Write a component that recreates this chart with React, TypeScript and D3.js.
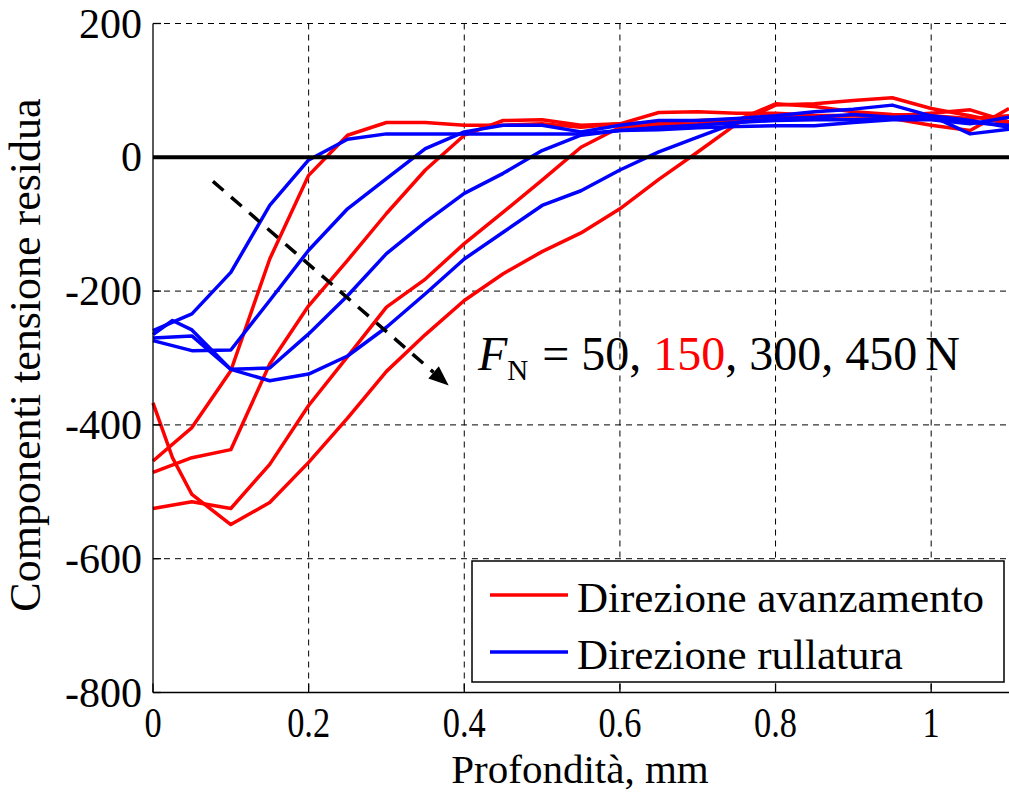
import React from "react";
import * as d3 from "d3";

const W = 1009;
const H = 793;

// depth in mm, 0.05 steps
const depth = [0, 0.05, 0.1, 0.15, 0.2, 0.25, 0.3, 0.35, 0.4, 0.45, 0.5, 0.55, 0.6, 0.65, 0.7, 0.75, 0.8, 0.85, 0.9, 0.95, 1.0, 1.05, 1.1];
// the deepest curves also have a reading at 0.025
const depthFine = [0, 0.025, 0.05, 0.1, 0.15, 0.2, 0.25, 0.3, 0.35, 0.4, 0.45, 0.5, 0.55, 0.6, 0.65, 0.7, 0.75, 0.8, 0.85, 0.9, 0.95, 1.0, 1.05, 1.1];

// Direzione avanzamento (red)
const avanz50 = [-454, -404, -319, -152, -27, 33, 52, 52, 48, 48, 50, 45, 50, 52, 55, 57, 60, 58, 57, 58, 48, 40, 73];
const avanz150 = [-471, -449, -437, -309, -222, -154, -84, -19, 33, 55, 56, 48, 50, 67, 68, 66, 66, 63, 62, 62, 66, 71, 53];
const avanz300 = [-525, -515, -525, -459, -371, -298, -224, -182, -129, -82, -34, 15, 45, 48, 50, 55, 80, 76, 68, 64, 62, 58, 62];
const avanz450 = [-367, -449, -504, -549, -516, -456, -390, -320, -265, -214, -174, -141, -113, -77, -33, 8, 50, 78, 80, 85, 89, 73, 62, 50];

// Direzione rullatura (blue)
const rull50 = [-259, -234, -172, -72, -4, 27, 35, 35, 35, 35, 35, 35, 40, 41, 44, 46, 47, 47, 52, 56, 56, 50, 60];
const rull150 = [-274, -289, -288, -214, -139, -77, -32, 13, 38, 48, 48, 38, 48, 55, 55, 58, 62, 68, 72, 78, 62, 35, 42];
const rull300 = [-270, -267, -317, -315, -264, -207, -144, -97, -54, -24, 10, 33, 40, 45, 48, 52, 55, 56, 56, 58, 58, 52, 48];
const rull450 = [-265, -244, -258, -317, -334, -324, -297, -254, -204, -152, -112, -72, -50, -19, 8, 30, 52, 58, 60, 64, 60, 62, 55, 45];

const xTicks = [0, 0.2, 0.4, 0.6, 0.8, 1];
const xTickLabels = ["0", "0.2", "0.4", "0.6", "0.8", "1"];
const yTicks = [200, 0, -200, -400, -600, -800];
const xGrid = [0.2, 0.4, 0.6, 0.8, 1];
const yGrid = [200, -200, -400, -600];

// arrow annotation, in data units
const arrowFrom = [0.077, -36];
const arrowTo = [0.38, -341];

const font = "'Liberation Serif', 'Times New Roman', serif";

export default function App() {
  const x = d3.scaleLinear().domain([0, 1.1]).range([153, 1009]);
  const y = d3.scaleLinear().domain([-800, 200]).range([692.5, 23.5]);

  const line = d3
    .line<[number, number]>()
    .x((d) => x(d[0]))
    .y((d) => y(d[1]));

  const series = [
    { xs: depth, ys: avanz50, color: "#ff0000" },
    { xs: depth, ys: avanz150, color: "#ff0000" },
    { xs: depth, ys: avanz300, color: "#ff0000" },
    { xs: depthFine, ys: avanz450, color: "#ff0000" },
    { xs: depth, ys: rull50, color: "#0000ff" },
    { xs: depth, ys: rull150, color: "#0000ff" },
    { xs: depth, ys: rull300, color: "#0000ff" },
    { xs: depthFine, ys: rull450, color: "#0000ff" },
  ];

  const ax1 = x(arrowFrom[0]);
  const ay1 = y(arrowFrom[1]);
  const ax2 = x(arrowTo[0]);
  const ay2 = y(arrowTo[1]);
  const ang = Math.atan2(ay2 - ay1, ax2 - ax1);
  const headLen = 20;
  const headW = 8;
  const bx = ax2 - headLen * Math.cos(ang);
  const by = ay2 - headLen * Math.sin(ang);
  const head = [
    [ax2, ay2],
    [bx - headW * Math.sin(ang), by + headW * Math.cos(ang)],
    [bx + headW * Math.sin(ang), by - headW * Math.cos(ang)],
  ];

  return (
    <svg
      width={W}
      height={H}
      viewBox={`0 0 ${W} ${H}`}
      style={{ position: "absolute", left: 0, top: 0, background: "#fff" }}
      fontFamily={font}
    >
      <rect x={0} y={0} width={W} height={H} fill="#fff" />

      {/* grid */}
      {xGrid.map((t) => (
        <line key={"gx" + t} x1={x(t)} x2={x(t)} y1={y(200)} y2={y(-800)} stroke="#000" strokeWidth={1} strokeDasharray="6,5" />
      ))}
      {yGrid.map((t) => (
        <line key={"gy" + t} x1={x(0)} x2={x(1.1)} y1={y(t)} y2={y(t)} stroke="#000" strokeWidth={1} strokeDasharray="6,5" />
      ))}

      {/* data */}
      {series.map((s, i) => (
        <path
          key={i}
          d={line(s.xs.map((d, j) => [d, s.ys[j]] as [number, number])) || ""}
          fill="none"
          stroke={s.color}
          strokeWidth={3.5}
          strokeLinejoin="round"
        />
      ))}

      {/* zero line */}
      <line x1={x(0)} x2={x(1.1)} y1={y(0)} y2={y(0)} stroke="#000" strokeWidth={4} />

      {/* axes */}
      <line x1={x(0)} x2={x(0)} y1={y(200)} y2={y(-800)} stroke="#000" strokeWidth={1.3} />
      <line x1={x(0)} x2={x(1.1)} y1={y(-800)} y2={y(-800)} stroke="#000" strokeWidth={1.3} />
      {yTicks.map((t) => (
        <g key={"yt" + t}>
          <line x1={x(0)} x2={x(0) + 8} y1={y(t)} y2={y(t)} stroke="#000" strokeWidth={1.3} />
          <text x={142} y={y(t) + 14} fontSize={42} textAnchor="end" fill="#000">
            {t}
          </text>
        </g>
      ))}
      {xTicks.map((t, i) => (
        <g key={"xt" + t}>
          <line x1={x(t)} x2={x(t)} y1={y(-800)} y2={y(-800) - 9} stroke="#000" strokeWidth={1.3} />
          <text
            transform={`translate(${x(t)},737) scale(0.8,1)`}
            fontSize={43}
            textAnchor="middle"
            fill="#000"
          >
            {xTickLabels[i]}
          </text>
        </g>
      ))}

      {/* axis titles */}
      <text x={580} y={783} fontSize={41} textAnchor="middle" fill="#000">
        Profondità, mm
      </text>
      <text transform="translate(40,355) rotate(-90)" fontSize={44} textAnchor="middle" fill="#000">
        Componenti tensione residua
      </text>

      {/* arrow */}
      <line x1={ax1} y1={ay1} x2={bx} y2={by} stroke="#000" strokeWidth={3.5} strokeDasharray="14,10" />
      <polygon points={head.map((p) => p.join(",")).join(" ")} fill="#000" />

      {/* annotation */}
      <text x={478} y={370} fontSize={48} fill="#000">
        <tspan fontStyle="italic">F</tspan>
        <tspan fontSize={29} dy={10}>N</tspan>
        <tspan dy={-10} dx={14}>=</tspan>
        <tspan dx={12}>50, </tspan>
        <tspan fill="#ff0000">150</tspan>
        <tspan>, 300, 450</tspan>
        <tspan dx={-4}> N</tspan>
      </text>

      {/* legend */}
      <rect x={472} y={561} width={532} height={121} fill="#fff" stroke="#000" strokeWidth={1.5} />
      <line x1={490} x2={568} y1={595} y2={595} stroke="#ff0000" strokeWidth={3.5} />
      <line x1={490} x2={568} y1={652} y2={652} stroke="#0000ff" strokeWidth={3.5} />
      <text x={577} y={612} fontSize={43} fill="#000">
        Direzione avanzamento
      </text>
      <text x={577} y={669} fontSize={43} fill="#000">
        Direzione rullatura
      </text>
    </svg>
  );
}
